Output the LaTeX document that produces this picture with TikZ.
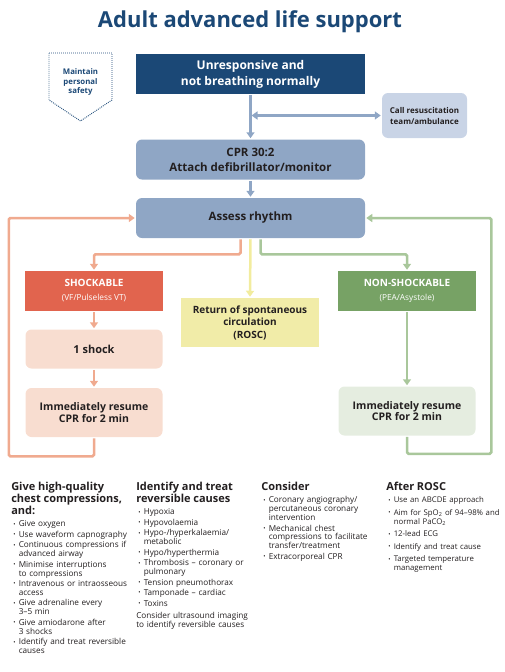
\documentclass[tikz,border=0pt]{standalone}
\usepackage{fontspec}
\setmainfont{Open Sans}
\usetikzlibrary{arrows.meta, positioning}

\definecolor{alsnavy}{HTML}{1B4876}
\definecolor{alsblue}{HTML}{8FA6C5}
\definecolor{alspale}{HTML}{C9D4E6}
\definecolor{alsink}{HTML}{231F20}
\definecolor{shockred}{HTML}{E1644E}
\definecolor{shockline}{HTML}{F0AA8F}
\definecolor{shockpale}{HTML}{F8DDD0}
\definecolor{roscline}{HTML}{F2EC9E}
\definecolor{roscfill}{HTML}{F1ECA8}
\definecolor{nsgreen}{HTML}{77A265}
\definecolor{nsline}{HTML}{A9C79B}
\definecolor{nspale}{HTML}{E5EDE0}

\newenvironment{alsbullets}{\begin{list}{\raisebox{0.6pt}{\fontsize{6}{6}\selectfont\textbullet}}{%
  \setlength\leftmargin{7.5pt}\setlength\labelwidth{4pt}\setlength\labelsep{3pt}%
  \setlength\itemsep{1.6pt}\setlength\parsep{0pt}\setlength\topsep{3.2pt}%
  \setlength\partopsep{0pt}\setlength\itemindent{0pt}}}{\end{list}}

\begin{document}
\begin{tikzpicture}[x=1pt, y=-1pt, ->, >={Triangle[width=8pt,length=6pt]}, line width=2.5pt, node distance=16pt]
  \tikzstyle{chart}=[text=alsink, align=center, inner sep=2pt, font=\fontsize{11.5}{15}\selectfont\bfseries]
  \tikzstyle{navybox}=[chart, fill=alsnavy, text=white, minimum width=229pt, minimum height=40pt, font=\fontsize{12}{16}\selectfont\bfseries]
  \tikzstyle{bluebox}=[chart, fill=alsblue, rounded corners=6pt, minimum width=229pt, minimum height=40pt]
  \tikzstyle{callbox}=[chart, fill=alspale, rounded corners=6pt, minimum width=85pt, minimum height=45pt, font=\fontsize{8}{11}\selectfont\bfseries]
  \tikzstyle{redbox}=[chart, fill=shockred, text=white, minimum width=138pt, minimum height=40pt, font=\fontsize{10}{14}\selectfont\bfseries]
  \tikzstyle{greenbox}=[redbox, fill=nsgreen]
  \tikzstyle{peachbox}=[chart, fill=shockpale, rounded corners=6pt, minimum width=137pt, minimum height=39pt, font=\fontsize{10.5}{11.5}\selectfont\bfseries]
  \tikzstyle{palegreenbox}=[peachbox, fill=nspale]
  \tikzstyle{roscbox}=[chart, fill=roscfill, minimum width=138pt, minimum height=49pt, font=\fontsize{10}{12.5}\selectfont\bfseries]
  \tikzstyle{notes}=[anchor=north west, text width=125pt, align=left, inner sep=0pt, text=alsink, font=\fontsize{8.2}{8.9}\selectfont]

  \useasboundingbox (0,0) rectangle (504,672);

  % Title and safety reminder
  \node[font=\fontsize{22}{24}\selectfont\bfseries, text=alsnavy] (title) at (250,22) {Adult advanced life support};
  \draw[-, alsnavy, line width=0.9pt, dash pattern=on 0.9pt off 1.1pt]
    (49,53) -- (112,53) -- (112,100) -- (80.5,121) -- (49,100) -- cycle;
  \node[font=\fontsize{7.8}{9.5}\selectfont\bfseries, text=alsnavy, align=center] (safety) at (80.5,82) {Maintain\\personal\\safety};

  % Boxes
  \node[navybox] (start) at (250.5,74) {Unresponsive and\\not breathing normally};
  \node[bluebox, below=43pt of start] (cpr) {CPR 30:2\\Attach defibrillator/monitor};
  \node[bluebox, below=of cpr] (assess) {Assess rhythm};
  \node[callbox] (call) at (424.5,115.5) {Call resuscitation\\team/ambulance};

  \node[redbox] (shock) at (94,291) {SHOCKABLE\\{\fontsize{8.3}{9}\selectfont\mdseries (VF/Pulseless VT)}};
  \node[peachbox, below=of shock] (oneshock) {\fontsize{11}{13}\selectfont 1 shock};
  \node[peachbox, minimum height=49pt, below=17pt of oneshock] (shockcpr) {Immediately resume\\CPR for 2 min};

  \node[roscbox] (rosc) at (250,322.5) {Return of spontaneous\\circulation\\(ROSC)};

  \node[greenbox] (nonshock) at (407,291) {NON-SHOCKABLE\\{\fontsize{8.3}{9}\selectfont\mdseries (PEA/Asystole)}};
  \node[palegreenbox, minimum height=49pt, below=73pt of nonshock] (nonshockcpr) {Immediately resume\\CPR for 2 min};

  % Arrows
  \coordinate (callsplit) at (251.5,115.5);
  \draw[alsblue] (start) -- (cpr);
  \draw[alsblue, <->] (callsplit) -- (call.west);
  \draw[alsblue] (cpr) -- (assess);

  \draw[shockline, rounded corners=1.5pt] ([xshift=-10pt]assess.south) -- ++(0,15) -| (shock.north);
  \draw[roscline] (assess.south) -- (rosc.north);
  \draw[nsline, rounded corners=1.5pt] ([xshift=10pt]assess.south) -- ++(0,15) -| (nonshock.north);

  \draw[shockline] (shock) -- (oneshock);
  \draw[shockline] (oneshock) -- (shockcpr);
  \draw[nsline] (nonshock) -- (nonshockcpr);

  \draw[shockline, rounded corners=1.5pt] (shockcpr.south) -- ++(0,18) -| ([xshift=-126pt]assess.west) -- (assess.west);
  \draw[nsline, rounded corners=1.5pt] (nonshockcpr.south) -- ++(0,17) -| ([xshift=125pt]assess.east) -- (assess.east);

  % Notes
  \node[notes] (compress) at (10,481) {{\fontsize{11}{12}\selectfont\bfseries Give high-quality\\chest compressions,\\and:\par}
    \begin{alsbullets}
      \item Give oxygen
      \item Use waveform capnography
      \item Continuous compressions if\\advanced airway
      \item Minimise interruptions\\to compressions
      \item Intravenous or intraosseous\\access
      \item Give adrenaline every\\3\textendash 5 min
      \item Give amiodarone after\\3 shocks
      \item Identify and treat reversible\\causes
    \end{alsbullets}};
  \node[notes] (causes) at (135,481) {{\fontsize{11}{12}\selectfont\bfseries Identify and treat\\reversible causes\par}
    \begin{alsbullets}
      \item Hypoxia
      \item Hypovolaemia
      \item Hypo-/hyperkalaemia/\\metabolic
      \item Hypo/hyperthermia
      \item Thrombosis \textendash{} coronary or\\pulmonary
      \item Tension pneumothorax
      \item Tamponade \textendash{} cardiac
      \item Toxins
    \end{alsbullets}
    Consider ultrasound imaging\\to identify reversible causes};
  \node[notes] (consider) at (260,481) {{\fontsize{11}{12}\selectfont\bfseries Consider\par}
    \begin{alsbullets}
      \item Coronary angiography/\\percutaneous coronary\\intervention
      \item Mechanical chest\\compressions to facilitate\\transfer/treatment
      \item Extracorporeal CPR
    \end{alsbullets}};
  \node[notes, font=\fontsize{7.8}{8.9}\selectfont] (afterrosc) at (385,481) {{\fontsize{11}{12}\selectfont\bfseries After ROSC\par}
    \begin{alsbullets}\setlength\itemsep{3.6pt}
      \item Use an ABCDE approach
      \item Aim for SpO\textsubscript{2} of 94\textendash 98\% and\\normal PaCO\textsubscript{2}
      \item 12-lead ECG
      \item Identify and treat cause
      \item Targeted temperature\\management
    \end{alsbullets}};
\end{tikzpicture}
\end{document}
